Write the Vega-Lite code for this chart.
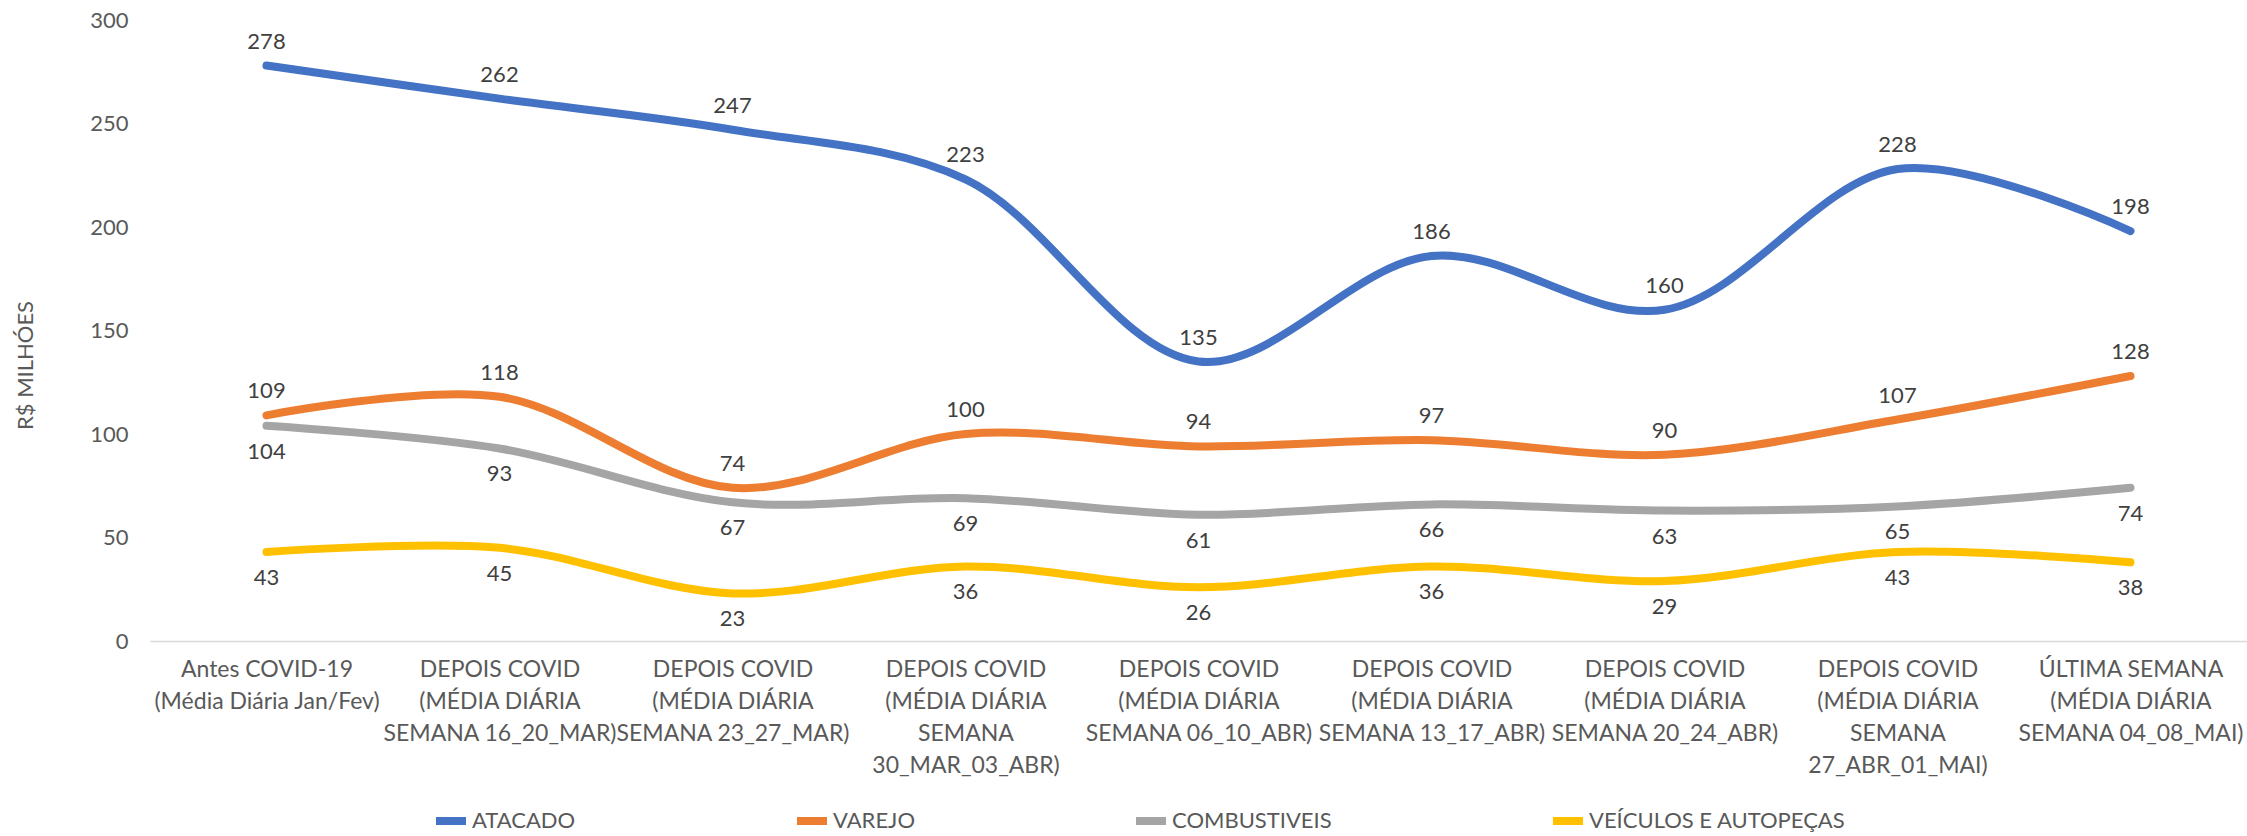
{
  "$schema": "https://vega.github.io/schema/vega-lite/v6.json",
  "autosize": {"type": "none"},
  "width": 2097,
  "height": 621,
  "padding": {"left": 150, "top": 20, "right": 0, "bottom": 195},
  "background": "white",
  "config": {
    "font": "Lato",
    "view": {"stroke": null}
  },
  "data": {
    "values": [
      {"periodo": "Antes COVID-19\n(Média Diária Jan/Fev)", "ordem": 1, "serie": "ATACADO", "valor": 278},
      {"periodo": "DEPOIS COVID\n(MÉDIA DIÁRIA\nSEMANA 16_20_MAR)", "ordem": 2, "serie": "ATACADO", "valor": 262},
      {"periodo": "DEPOIS COVID\n(MÉDIA DIÁRIA\nSEMANA 23_27_MAR)", "ordem": 3, "serie": "ATACADO", "valor": 247},
      {"periodo": "DEPOIS COVID\n(MÉDIA DIÁRIA\nSEMANA\n30_MAR_03_ABR)", "ordem": 4, "serie": "ATACADO", "valor": 223},
      {"periodo": "DEPOIS COVID\n(MÉDIA DIÁRIA\nSEMANA 06_10_ABR)", "ordem": 5, "serie": "ATACADO", "valor": 135},
      {"periodo": "DEPOIS COVID\n(MÉDIA DIÁRIA\nSEMANA 13_17_ABR)", "ordem": 6, "serie": "ATACADO", "valor": 186},
      {"periodo": "DEPOIS COVID\n(MÉDIA DIÁRIA\nSEMANA 20_24_ABR)", "ordem": 7, "serie": "ATACADO", "valor": 160},
      {"periodo": "DEPOIS COVID\n(MÉDIA DIÁRIA\nSEMANA\n27_ABR_01_MAI)", "ordem": 8, "serie": "ATACADO", "valor": 228},
      {"periodo": "ÚLTIMA SEMANA\n(MÉDIA DIÁRIA\nSEMANA 04_08_MAI)", "ordem": 9, "serie": "ATACADO", "valor": 198},

      {"periodo": "Antes COVID-19\n(Média Diária Jan/Fev)", "ordem": 1, "serie": "VAREJO", "valor": 109},
      {"periodo": "DEPOIS COVID\n(MÉDIA DIÁRIA\nSEMANA 16_20_MAR)", "ordem": 2, "serie": "VAREJO", "valor": 118},
      {"periodo": "DEPOIS COVID\n(MÉDIA DIÁRIA\nSEMANA 23_27_MAR)", "ordem": 3, "serie": "VAREJO", "valor": 74},
      {"periodo": "DEPOIS COVID\n(MÉDIA DIÁRIA\nSEMANA\n30_MAR_03_ABR)", "ordem": 4, "serie": "VAREJO", "valor": 100},
      {"periodo": "DEPOIS COVID\n(MÉDIA DIÁRIA\nSEMANA 06_10_ABR)", "ordem": 5, "serie": "VAREJO", "valor": 94},
      {"periodo": "DEPOIS COVID\n(MÉDIA DIÁRIA\nSEMANA 13_17_ABR)", "ordem": 6, "serie": "VAREJO", "valor": 97},
      {"periodo": "DEPOIS COVID\n(MÉDIA DIÁRIA\nSEMANA 20_24_ABR)", "ordem": 7, "serie": "VAREJO", "valor": 90},
      {"periodo": "DEPOIS COVID\n(MÉDIA DIÁRIA\nSEMANA\n27_ABR_01_MAI)", "ordem": 8, "serie": "VAREJO", "valor": 107},
      {"periodo": "ÚLTIMA SEMANA\n(MÉDIA DIÁRIA\nSEMANA 04_08_MAI)", "ordem": 9, "serie": "VAREJO", "valor": 128},

      {"periodo": "Antes COVID-19\n(Média Diária Jan/Fev)", "ordem": 1, "serie": "COMBUSTIVEIS", "valor": 104},
      {"periodo": "DEPOIS COVID\n(MÉDIA DIÁRIA\nSEMANA 16_20_MAR)", "ordem": 2, "serie": "COMBUSTIVEIS", "valor": 93},
      {"periodo": "DEPOIS COVID\n(MÉDIA DIÁRIA\nSEMANA 23_27_MAR)", "ordem": 3, "serie": "COMBUSTIVEIS", "valor": 67},
      {"periodo": "DEPOIS COVID\n(MÉDIA DIÁRIA\nSEMANA\n30_MAR_03_ABR)", "ordem": 4, "serie": "COMBUSTIVEIS", "valor": 69},
      {"periodo": "DEPOIS COVID\n(MÉDIA DIÁRIA\nSEMANA 06_10_ABR)", "ordem": 5, "serie": "COMBUSTIVEIS", "valor": 61},
      {"periodo": "DEPOIS COVID\n(MÉDIA DIÁRIA\nSEMANA 13_17_ABR)", "ordem": 6, "serie": "COMBUSTIVEIS", "valor": 66},
      {"periodo": "DEPOIS COVID\n(MÉDIA DIÁRIA\nSEMANA 20_24_ABR)", "ordem": 7, "serie": "COMBUSTIVEIS", "valor": 63},
      {"periodo": "DEPOIS COVID\n(MÉDIA DIÁRIA\nSEMANA\n27_ABR_01_MAI)", "ordem": 8, "serie": "COMBUSTIVEIS", "valor": 65},
      {"periodo": "ÚLTIMA SEMANA\n(MÉDIA DIÁRIA\nSEMANA 04_08_MAI)", "ordem": 9, "serie": "COMBUSTIVEIS", "valor": 74},

      {"periodo": "Antes COVID-19\n(Média Diária Jan/Fev)", "ordem": 1, "serie": "VEÍCULOS E AUTOPEÇAS", "valor": 43},
      {"periodo": "DEPOIS COVID\n(MÉDIA DIÁRIA\nSEMANA 16_20_MAR)", "ordem": 2, "serie": "VEÍCULOS E AUTOPEÇAS", "valor": 45},
      {"periodo": "DEPOIS COVID\n(MÉDIA DIÁRIA\nSEMANA 23_27_MAR)", "ordem": 3, "serie": "VEÍCULOS E AUTOPEÇAS", "valor": 23},
      {"periodo": "DEPOIS COVID\n(MÉDIA DIÁRIA\nSEMANA\n30_MAR_03_ABR)", "ordem": 4, "serie": "VEÍCULOS E AUTOPEÇAS", "valor": 36},
      {"periodo": "DEPOIS COVID\n(MÉDIA DIÁRIA\nSEMANA 06_10_ABR)", "ordem": 5, "serie": "VEÍCULOS E AUTOPEÇAS", "valor": 26},
      {"periodo": "DEPOIS COVID\n(MÉDIA DIÁRIA\nSEMANA 13_17_ABR)", "ordem": 6, "serie": "VEÍCULOS E AUTOPEÇAS", "valor": 36},
      {"periodo": "DEPOIS COVID\n(MÉDIA DIÁRIA\nSEMANA 20_24_ABR)", "ordem": 7, "serie": "VEÍCULOS E AUTOPEÇAS", "valor": 29},
      {"periodo": "DEPOIS COVID\n(MÉDIA DIÁRIA\nSEMANA\n27_ABR_01_MAI)", "ordem": 8, "serie": "VEÍCULOS E AUTOPEÇAS", "valor": 43},
      {"periodo": "ÚLTIMA SEMANA\n(MÉDIA DIÁRIA\nSEMANA 04_08_MAI)", "ordem": 9, "serie": "VEÍCULOS E AUTOPEÇAS", "valor": 38}
    ]
  },
  "encoding": {
    "x": {
      "field": "periodo",
      "type": "nominal",
      "sort": {"field": "ordem"},
      "scale": {"type": "point", "padding": 0.5},
      "axis": {
        "title": null,
        "labelAngle": 0,
        "labelExpr": "split(datum.label, '\\n')",
        "labelLineHeight": 32,
        "labelFontSize": 23,
        "labelColor": "#595959",
        "labelPadding": 17,
        "labelBaseline": "top",
        "labelLimit": 0,
        "ticks": false,
        "domainColor": "#D9D9D9",
        "domainWidth": 1.5,
        "grid": false
      }
    },
    "y": {
      "field": "valor",
      "type": "quantitative",
      "scale": {"domain": [0, 300], "nice": false},
      "axis": {
        "title": "R$ MILHÓES",
        "titleFontSize": 22,
        "titleFontWeight": "normal",
        "titleColor": "#595959",
        "titleAngle": 270,
        "titleX": -125,
        "titleY": 345,
        "titleAlign": "center",
        "titleBaseline": "middle",
        "values": [0, 50, 100, 150, 200, 250, 300],
        "labelFontSize": 22,
        "labelColor": "#595959",
        "labelPadding": 22,
        "ticks": false,
        "domain": false,
        "grid": false
      }
    }
  },
  "layer": [
    {
      "mark": {"type": "line", "interpolate": "catmull-rom", "strokeWidth": 8, "strokeCap": "round", "strokeJoin": "round"},
      "encoding": {
        "color": {
          "field": "serie",
          "type": "nominal",
          "sort": ["ATACADO", "VAREJO", "COMBUSTIVEIS", "VEÍCULOS E AUTOPEÇAS"],
          "scale": {
            "domain": ["ATACADO", "VAREJO", "COMBUSTIVEIS", "VEÍCULOS E AUTOPEÇAS"],
            "range": ["#4472C4", "#ED7D31", "#A5A5A5", "#FFC000"]
          },
          "legend": {
            "title": null,
            "orient": "none",
            "legendX": 282,
            "legendY": 782,
            "direction": "horizontal",
            "columns": 4,
            "gridAlign": "none",
            "columnPadding": 205,
            "symbolType": "stroke",
            "symbolStrokeWidth": 8,
            "symbolSize": 900,
            "labelFontSize": 22,
            "labelColor": "#595959",
            "labelOffset": 2,
            "labelLimit": 0
          }
        },
        "detail": {"field": "serie"}
      }
    },
    {
      "transform": [{"filter": "datum.serie === 'ATACADO' || datum.serie === 'VAREJO'"}],
      "mark": {"type": "text", "dy": -24, "fontSize": 22, "color": "#404040", "baseline": "middle"},
      "encoding": {"text": {"field": "valor", "type": "quantitative"}}
    },
    {
      "transform": [{"filter": "datum.serie === 'COMBUSTIVEIS' || datum.serie === 'VEÍCULOS E AUTOPEÇAS'"}],
      "mark": {"type": "text", "dy": 26, "fontSize": 22, "color": "#404040", "baseline": "middle"},
      "encoding": {"text": {"field": "valor", "type": "quantitative"}}
    }
  ]
}
